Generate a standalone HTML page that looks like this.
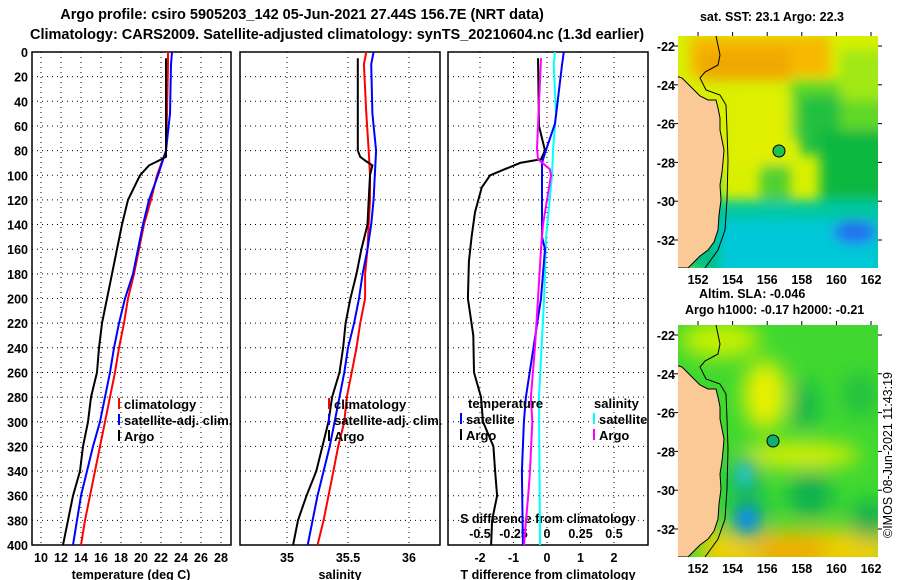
<!DOCTYPE html>
<html><head><meta charset="utf-8"><style>
html,body{margin:0;padding:0;background:#fff;}
svg{display:block;font-family:"Liberation Sans",sans-serif;font-weight:bold;}
</style></head><body>
<svg id="chart" width="900" height="580" viewBox="0 0 900 580">
<defs>
<filter id="blur6" x="-30%" y="-30%" width="160%" height="160%"><feGaussianBlur stdDeviation="6"/></filter>
<filter id="blur10" x="-50%" y="-50%" width="200%" height="200%"><feGaussianBlur stdDeviation="10"/></filter>
<clipPath id="clipTop"><rect x="678" y="36" width="200" height="232"/></clipPath>
<clipPath id="clipBot"><rect x="678" y="325" width="200" height="232"/></clipPath>
</defs>
<text x="302" y="19" font-size="14.5" text-anchor="middle">Argo profile: csiro 5905203_142 05-Jun-2021 27.44S 156.7E (NRT data)</text>
<text x="337" y="39" font-size="14.5" text-anchor="middle">Climatology: CARS2009. Satellite-adjusted climatology: synTS_20210604.nc (1.3d earlier)</text>

<!-- top map -->
<g clip-path="url(#clipTop)">
<rect x="678" y="36" width="200" height="232" fill="#d8f000"/>
<g filter="url(#blur6)">
<rect x="690" y="36" width="140" height="40" fill="#f8b800"/>
<rect x="700" y="50" width="90" height="30" fill="#f0a800"/>
<rect x="790" y="80" width="100" height="60" fill="#60d828"/>
<rect x="840" y="50" width="50" height="50" fill="#a0e818"/>
<rect x="800" y="95" width="40" height="60" fill="#20c040"/>
<rect x="820" y="130" width="70" height="70" fill="#10b840"/>
<rect x="760" y="160" width="30" height="40" fill="#50d030"/>
<rect x="735" y="95" width="55" height="70" fill="#e0f000"/>
<rect x="700" y="200" width="190" height="80" fill="#00c8a0"/>
<rect x="720" y="220" width="160" height="60" fill="#00c8d8"/>
<ellipse cx="855" cy="232" rx="22" ry="12" fill="#2070f0"/>
<rect x="678" y="170" width="40" height="100" fill="#00c080"/>
</g>
<polygon id="landTop" fill="#fbc996" stroke="#000" stroke-width="1" points="676,76 682,78 686,82 690,86 696,92 700,96 708,100 716,100 718,108 720,118 720,130 722,140 724,150 723,162 722,172 720,185 721,200 719,215 718,230 714,242 708,250 700,256 694,262 688,268 676,268"/>
<polyline fill="none" stroke="#000" stroke-width="1" points="716,36 720,55 718,65 705,72 700,78 706,90 720,95 726,105 727,130 728,160 727,200 725,230 718,250 705,268"/>
<circle cx="779" cy="151" r="6" fill="#20c050" stroke="#000" stroke-width="1"/>
</g>
<text x="772" y="21" font-size="12.5" text-anchor="middle">sat. SST: 23.1 Argo: 22.3</text>
<text x="699" y="298" font-size="12.5">Altim. SLA: -0.046</text>
<text x="685" y="314" font-size="12.5">Argo h1000: -0.17 h2000: -0.21</text>

<!-- bottom map -->
<g clip-path="url(#clipBot)">
<rect x="678" y="325" width="200" height="232" fill="#40d830"/>
<g filter="url(#blur10)">
<ellipse cx="765" cy="395" rx="22" ry="35" fill="#e8f000"/>
<ellipse cx="800" cy="455" rx="60" ry="12" fill="#e0f000"/>
<ellipse cx="720" cy="340" rx="40" ry="18" fill="#c8f000"/>
<rect x="700" y="530" width="190" height="40" fill="#f0d000"/>
<ellipse cx="790" cy="550" rx="40" ry="14" fill="#f0a800"/>
<ellipse cx="810" cy="495" rx="22" ry="24" fill="#10b050"/>
<ellipse cx="870" cy="520" rx="20" ry="20" fill="#10b050"/>
<ellipse cx="805" cy="405" rx="12" ry="25" fill="#10b050"/>
<ellipse cx="860" cy="395" rx="18" ry="22" fill="#20c040"/>
<ellipse cx="745" cy="478" rx="15" ry="22" fill="#10b070"/>
<ellipse cx="748" cy="518" rx="20" ry="22" fill="#10b070"/>
</g>
<g filter="url(#blur6)">
<ellipse cx="744" cy="475" rx="7" ry="12" fill="#20c8d0"/>
<ellipse cx="747" cy="519" rx="11" ry="12" fill="#1090e0"/>
</g>
<use href="#landTop" transform="translate(0,289)"/>
<polyline fill="none" stroke="#000" stroke-width="1" transform="translate(0,289)" points="716,36 720,55 718,65 705,72 700,78 706,90 720,95 726,105 727,130 728,160 727,200 725,230 718,250 705,268"/>
<circle cx="773" cy="441" r="6" fill="#10b070" stroke="#000" stroke-width="1"/>
</g>
<text x="0" y="0" font-size="12.5" font-weight="normal" text-anchor="middle" transform="translate(892,455) rotate(-90)">©IMOS 08-Jun-2021 11:43:19</text>
<g id="mapAxes"></g>
<g id="plots"></g>
</svg>
<script>
// ---- data ----
const depthTicks = [0,20,40,60,80,100,120,140,160,180,200,220,240,260,280,300,320,340,360,380,400];
const tempTicks = [10,12,14,16,18,20,22,24,26,28];
const salTicks = [35,35.5,36];
const salTickLabels = ["35","35.5","36"];
const tdiffTicks = [-2,-1,0,1,2];
const sdiffTicks = [-0.5,-0.25,0,0.25,0.5];
const sdiffTickLabels = ["-0.5","-0.25","0","0.25","0.5"];
const latTicks = [-22,-24,-26,-28,-30,-32];
const lonTicks = [152,154,156,158,160,162];

const climDepth = [0,10,50,80,100,120,140,160,180,200,220,240,260,280,300,320,340,360,380,400];
const climTemp  = [22.7,22.7,22.6,22.5,21.6,21.0,20.3,19.8,19.3,18.7,18.3,17.8,17.4,16.9,16.4,15.9,15.4,14.9,14.4,14.0];
const satDepth  = [0,10,50,80,100,120,140,160,180,200,220,240,260,280,300,320,340,360,380,400];
const satTemp   = [23.1,23.0,22.9,22.5,21.7,20.8,20.2,19.7,19.2,18.4,17.8,17.3,16.9,16.4,15.9,15.2,14.6,14.0,13.6,13.2];
const argoDepth = [5,40,85,88,92,100,120,140,160,180,200,220,240,260,280,300,320,340,360,380,400];
const argoTemp  = [22.5,22.5,22.5,21.8,20.8,19.9,18.7,18.1,17.6,17.1,16.6,16.1,15.8,15.6,15.0,14.7,14.2,13.9,13.2,12.7,12.2];

const climSal = [35.65,35.63,35.65,35.67,35.68,35.68,35.67,35.66,35.64,35.64,35.60,35.57,35.53,35.49,35.47,35.42,35.38,35.34,35.30,35.25];
const satSal  = [35.71,35.69,35.70,35.73,35.72,35.71,35.69,35.66,35.62,35.59,35.55,35.50,35.47,35.43,35.39,35.35,35.30,35.25,35.21,35.17];
const argoSalDepth = [5,40,80,85,88,92,100,120,140,160,180,200,220,240,260,280,300,320,340,360,380,400];
const argoSal = [35.58,35.58,35.58,35.60,35.64,35.70,35.68,35.67,35.66,35.61,35.57,35.52,35.48,35.46,35.43,35.37,35.34,35.29,35.24,35.16,35.09,35.05];

const satTdiffDepth = [0,10,58,82,90,150,160,200,280,300,340,400];
const satTdiff = [0.5,0.45,0.24,-0.06,-0.15,-0.15,-0.06,-0.18,-0.63,-0.69,-0.75,-0.72];
const argoTdiffDepth = [5,60,80,87,90,95,100,110,130,150,170,200,230,260,280,300,320,340,360,380,400];
const argoTdiff = [-0.27,-0.24,-0.06,-0.18,-0.8,-1.25,-1.7,-1.95,-2.15,-2.25,-2.33,-2.36,-2.2,-2.18,-1.97,-1.91,-1.6,-1.55,-1.49,-1.64,-1.67];
const argoSdiffDepth = [5,60,78,87,95,100,120,140,160,200,240,280,300,340,360,380,400];
const argoSdiff = [-0.045,-0.067,-0.075,-0.067,0.02,0.03,0.0,-0.03,-0.045,-0.067,-0.09,-0.12,-0.11,-0.127,-0.14,-0.157,-0.172];
const satSdiffDepth = [0,10,50,80,100,150,200,280,400];
const satSdiff = [0.06,0.05,0.067,0.045,0.037,-0.007,-0.022,-0.06,-0.052];

// ---- drawing ----
const NS = "http://www.w3.org/2000/svg";
const plots = document.getElementById('plots');
const mapAxes = document.getElementById('mapAxes');
function mk(tag, attrs, parent){const e=document.createElementNS(NS,tag);for(const k in attrs)e.setAttribute(k,attrs[k]);(parent||plots).appendChild(e);return e;}
const Y0=52, Y1=545;
function yD(d){return Y0+(d/400)*(Y1-Y0);}
function xT(t){return 41+10*(t-10);}
function xS(s){return 287+122*(s-35);}
function xTd(t){return 547+33.5*t;}
function xSd(s){return 547+134*s;}
const panels=[{x0:32,x1:231,name:'temperature-panel'},{x0:240,x1:440,name:'salinity-panel'},{x0:448,x1:648,name:'difference-panel'}];
const gridX=[tempTicks.map(xT), salTicks.map(xS), tdiffTicks.map(xTd)];
panels.forEach((p,i)=>{
  const g=mk('g',{});
  
  
  depthTicks.forEach(d=>{ if(d>0&&d<400){ const l=mk('line',{x1:p.x0,x2:p.x1,y1:yD(d),y2:yD(d),stroke:'#000','stroke-width':1,'stroke-dasharray':'1,4'},g);
    
    }});
  gridX[i].forEach(x=>{ const l=mk('line',{x1:x,x2:x,y1:Y0,y2:Y1,stroke:'#000','stroke-width':1,'stroke-dasharray':'1,4'},g);
    
    });
  const r=mk('rect',{x:p.x0,y:Y0,width:p.x1-p.x0,height:Y1-Y0,fill:'none',stroke:'#000','stroke-width':1.5},g);
  
  
});
depthTicks.forEach(d=>{const t=mk('text',{x:28,y:yD(d)+5,'font-size':12.5,'text-anchor':'end'});t.textContent=d;
  
  });
function xlab(x,y,s,name){const t=mk('text',{x:x,y:y,'font-size':12.5,'text-anchor':'middle'});t.textContent=s;
  
  }
tempTicks.forEach(v=>xlab(xT(v),562,v,'temp-tick-label'));
salTicks.forEach((v,i)=>xlab(xS(v),562,salTickLabels[i],'salinity-tick-label'));
tdiffTicks.forEach(v=>xlab(xTd(v),562,v,'tdiff-tick-label'));
sdiffTicks.forEach((v,i)=>xlab(xSd(v),538,sdiffTickLabels[i],'sdiff-tick-label'));
xlab(131,579,'temperature (deg C)','temperature-axis-title');
xlab(340,579,'salinity','salinity-axis-title');
xlab(548,579,'T difference from climatology','tdiff-axis-title');
xlab(548,523,'S difference from climatology','sdiff-axis-title');

function line(ds,vs,fx,color,name){
  const pts=ds.map((d,i)=>fx(vs[i]).toFixed(1)+','+yD(d).toFixed(1)).join(' ');
  const l=mk('polyline',{points:pts,fill:'none',stroke:color,'stroke-width':2});
  
  
}
line(climDepth,climTemp,xT,'#ff0000','climatology-temp-line');
line(satDepth,satTemp,xT,'#0000ff','satellite-temp-line');
line(argoDepth,argoTemp,xT,'#000000','argo-temp-line');
line(climDepth,climSal,xS,'#ff0000','climatology-salinity-line');
line(satDepth,satSal,xS,'#0000ff','satellite-salinity-line');
line(argoSalDepth,argoSal,xS,'#000000','argo-salinity-line');
line(satSdiffDepth,satSdiff,xSd,'#00ffff','satellite-sdiff-line');
line(argoTdiffDepth,argoTdiff,xTd,'#000000','argo-tdiff-line');
line(satTdiffDepth,satTdiff,xTd,'#0000ff','satellite-tdiff-line');
line(argoSdiffDepth,argoSdiff,xSd,'#ff00ff','argo-sdiff-line');

function leg(x,y,color,label,name){
  const l=mk('line',{x1:x,x2:x,y1:y-11,y2:y,stroke:color,'stroke-width':2});
  
  
  const t=mk('text',{x:x+5,y:y,'font-size':13});t.textContent=label;
  
  
}
leg(119,409,'#ff0000','climatology','legend-climatology');
leg(119,425,'#0000ff','satellite-adj. clim.','legend-satellite-adj');
leg(119,441,'#000000','Argo','legend-argo');
leg(329,409,'#ff0000','climatology','legend2-climatology');
leg(329,425,'#0000ff','satellite-adj. clim.','legend2-satellite-adj');
leg(329,441,'#000000','Argo','legend2-argo');
{const t=mk('text',{x:468,y:408,'font-size':13});t.textContent='temperature';
 
 }
{const t=mk('text',{x:594,y:408,'font-size':13});t.textContent='salinity';
 
 }
leg(461,424,'#0000ff','satellite','legend-temp-satellite');
leg(461,440,'#000000','Argo','legend-temp-argo');
leg(594,424,'#00ffff','satellite','legend-sal-satellite');
leg(594,440,'#ff00ff','Argo','legend-sal-argo');

// map axes
function yLat(lat,top){return top+10+(-22-lat)*19.4;}
function xLon(lon){return 698+(lon-152)*17.3;}
[36,325].forEach((top,k)=>{
  latTicks.forEach(lat=>{
    const y=yLat(lat,top);
    const t=mk('text',{x:675,y:y+5,'font-size':12.5,'text-anchor':'end'},mapAxes);t.textContent=lat;
    
    
    mk('line',{x1:674,x2:678,y1:y,y2:y,stroke:'#000'},mapAxes);
    mk('line',{x1:878,x2:882,y1:y,y2:y,stroke:'#000'},mapAxes);
  });
  lonTicks.forEach(lon=>{
    const x=xLon(lon);
    const t=mk('text',{x:x,y:top+248,'font-size':12.5,'text-anchor':'middle'},mapAxes);t.textContent=lon;
    
    
    mk('line',{x1:x,x2:x,y1:top-4,y2:top,stroke:'#000'},mapAxes);
  });
});
</script>
</body></html>
